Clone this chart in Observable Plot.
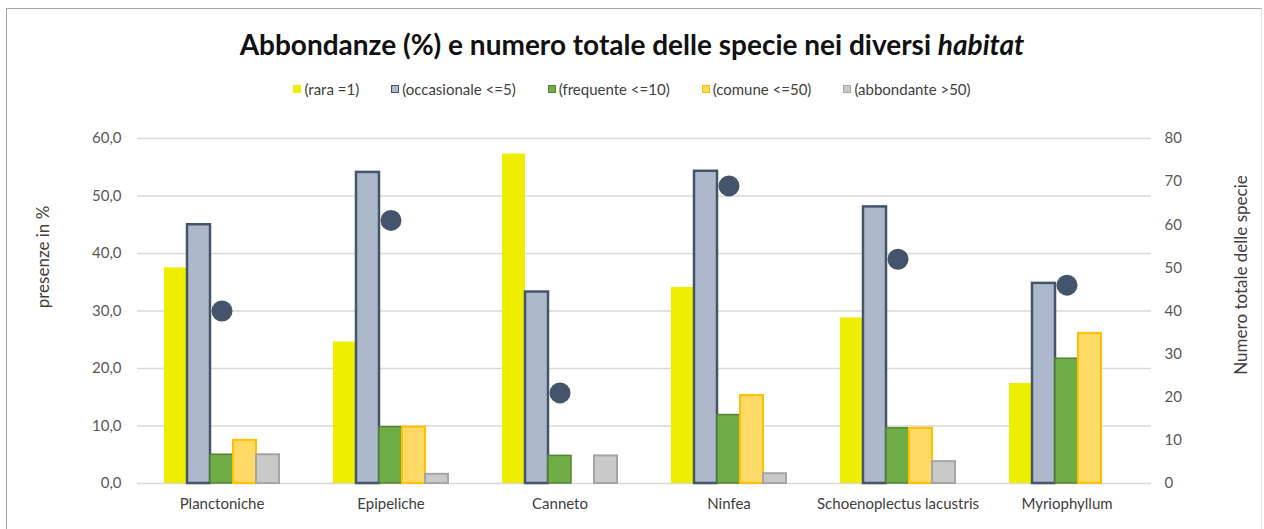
<!DOCTYPE html>
<html><head><meta charset="utf-8">
<script src="https://cdn.jsdelivr.net/npm/d3@7"></script>
<script src="https://cdn.jsdelivr.net/npm/@observablehq/plot@0.6"></script>
<style>
body{margin:0;background:#fff;font-family:Lato,"Open Sans",sans-serif;}
#wrap{position:relative;width:1264px;height:529px;overflow:hidden;background:#fff}
#frame{position:absolute;left:6px;top:8px;width:1256px;height:560px;border:1.5px solid #a6a6a6;border-right-color:#e4e4e4;box-sizing:border-box;pointer-events:none}
#title{position:absolute;left:0;width:1264px;top:27px;text-align:center;font-weight:bold;font-size:28px;color:#111;line-height:34px}
#title i{font-style:italic}
#legend{position:absolute;left:0;width:1264px;top:79px;display:flex;justify-content:center;gap:32px;font-size:15px;color:#404040;line-height:20px}
#legend .it{display:flex;align-items:center}
#legend .sw{width:8px;height:8px;box-sizing:border-box;margin-right:3px;border-width:1.5px;border-style:solid}
#chart{position:absolute;left:0;top:110px}
.ylab{position:absolute;font-size:17px;color:#404040;white-space:nowrap;transform:translate(-50%,-50%) rotate(-90deg);line-height:20px}
</style></head>
<body>
<div id="wrap">
  <div id="title">Abbondanze (%) e numero totale delle specie nei diversi <i>habitat</i></div>
  <div id="legend"></div>
  <div id="chart"></div>
  <div class="ylab" id="ylabL" style="left:43px;top:257px">presenze in %</div>
  <div class="ylab" id="ylabR" style="left:1241px;top:275px">Numero totale delle specie</div>
  <div id="frame"></div>
</div>
<script>
const habitats = ["Planctoniche","Epipeliche","Canneto","Ninfea","Schoenoplectus lacustris","Myriophyllum"];
const classes = ["(rara =1)","(occasionale <=5)","(frequente <=10)","(comune <=50)","(abbondante >50)"];
const rara        = [37.5, 24.6, 57.3, 34.1, 28.8, 17.4];
const occasionale = [45.0, 54.1, 33.3, 54.3, 48.1, 34.8];
const frequente   = [5.0, 9.8, 4.8, 11.9, 9.6, 21.7];
const comune      = [7.5, 9.8, 0, 15.3, 9.6, 26.1];
const abbondante  = [5.0, 1.6, 4.8, 1.7, 3.8, 0];
const totaleSpecie = [40, 61, 21, 69, 52, 46];
const leftTicks = [0, 10, 20, 30, 40, 50, 60];
const rightTicks = [0, 10, 20, 30, 40, 50, 60, 70, 80];

const series = [rara, occasionale, frequente, comune, abbondante];
const fills   = ["#eeee00", "#adb9ca", "#70ad47", "#ffd966", "#c9c9c9"];
const strokes = ["#eeee00", "#44546a", "#548235", "#ffc000", "#a5a5a5"];
const strokeW = [0, 2.5, 1.5, 2, 2];

// legend
const leg = document.getElementById("legend");
classes.forEach((c, j) => {
  const it = document.createElement("div"); it.className = "it";
  const sw = document.createElement("span"); sw.className = "sw";
  sw.style.background = fills[j]; sw.style.borderColor = strokes[j];
  const tx = document.createElement("span"); tx.textContent = c;
  it.appendChild(sw); it.appendChild(tx); leg.appendChild(it);
});

const rows = habitats.flatMap((h, i) => classes.map((c, j) => ({habitat: h, cls: c, value: series[j][i], j})));
const dots = habitats.map((h, i) => ({habitat: h, n: totaleSpecie[i]}));
const k = 60 / 80; // right axis (0-80) mapped onto left scale (0-60)

const barMarks = classes.map((c, j) => Plot.barY(rows.filter(r => r.j === j && r.value > 0), {
  fx: "habitat", x: "cls", y: "value",
  fill: fills[j], stroke: strokeW[j] ? strokes[j] : "none", strokeWidth: strokeW[j]
}));

const chart = Plot.plot({
  width: 1264, height: 419,
  marginTop: 28, marginBottom: 46, marginLeft: 135, marginRight: 112,
  style: {fontFamily: "Lato, 'Open Sans', sans-serif", fontSize: "15px", color: "#595959", background: "transparent"},
  fx: {domain: habitats, padding: 0, label: null, axis: null},
  x: {domain: classes, paddingInner: 0, paddingOuter: 1.03, axis: null},
  y: {domain: [0, 60], axis: null},
  marks: [
    Plot.ruleY(leftTicks, {stroke: "#d9d9d9", strokeWidth: 1.4}),
    ...barMarks,
    Plot.dot(dots, {fx: "habitat", y: d => d.n * k, r: 10.5, fill: "#44546a", stroke: "none"}),
    Plot.axisY(leftTicks, {anchor: "left", tickSize: 0, tickPadding: 16, label: null, fill: "#595959",
      tickFormat: d => d.toFixed(1).replace(".", ",")}),
    Plot.axisY(rightTicks.map(v => v * k), {anchor: "right", tickSize: 0, tickPadding: 13, label: null, fill: "#595959",
      tickFormat: d => String(Math.round(d / k))}),
    Plot.axisFx({anchor: "bottom", tickSize: 0, tickPadding: 15, label: null, fill: "#404040"})
  ]
});
document.getElementById("chart").appendChild(chart);
</script>
</body></html>
